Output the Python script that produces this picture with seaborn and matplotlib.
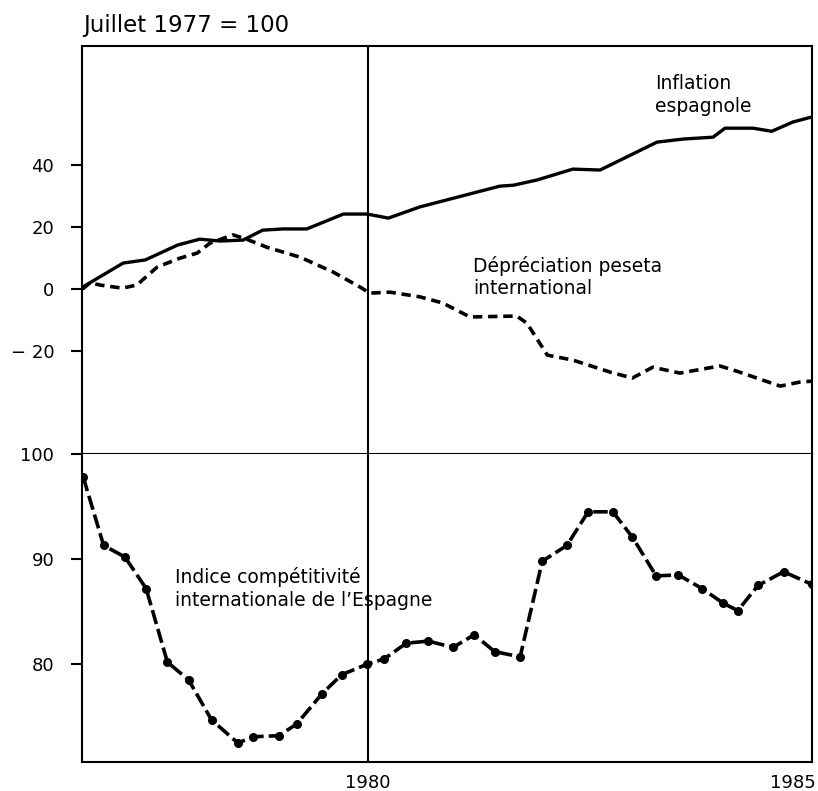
import matplotlib
matplotlib.use("Agg")
import matplotlib.pyplot as plt
import seaborn as sns

# Inflation espagnole (solid), % vs July 1977
infl_year = [1976.64, 1977.12, 1977.38, 1977.76, 1978.02, 1978.26, 1978.53, 1978.76,
             1979.00, 1979.28, 1979.71, 1979.99, 1980.24, 1980.61, 1981.55, 1981.71,
             1981.99, 1982.41, 1982.73, 1983.40, 1983.71, 1984.06, 1984.20, 1984.53,
             1984.75, 1985.00, 1985.22]
infl_value = [0.6, 8.4, 9.4, 14.2, 16.1, 15.5, 15.8, 19.0,
              19.4, 19.4, 24.2, 24.2, 22.9, 26.5, 33.2, 33.5,
              35.2, 38.7, 38.4, 47.4, 48.4, 49.0, 51.9, 51.9,
              50.9, 53.9, 55.5]

# Dépréciation peseta (dashed)
dep_year = [1976.64, 1976.73, 1976.85, 1977.11, 1977.28, 1977.52, 1977.79, 1977.99,
            1978.14, 1978.41, 1978.58, 1978.81, 1979.20, 1979.59, 1979.91, 1980.02,
            1980.26, 1980.61, 1980.88, 1981.20, 1981.75, 1981.87, 1982.11, 1982.41,
            1982.85, 1983.11, 1983.35, 1983.67, 1984.14, 1984.34, 1984.85, 1985.08,
            1985.22]
dep_value = [0.0, 2.0, 1.3, 0.3, 1.3, 7.1, 10.0, 11.6,
             14.8, 17.5, 16.0, 13.5, 10.3, 5.5, 0.6, -1.3,
             -1.0, -2.5, -4.5, -9.0, -8.7, -11.0, -21.3, -22.9,
             -26.8, -28.7, -25.2, -27.1, -24.8, -26.5, -31.3, -30.0,
             -29.7]

# Indice compétitivité internationale (base 100)
comp_year = [1976.65, 1976.89, 1977.14, 1977.39, 1977.64, 1977.89, 1978.16, 1978.47,
             1978.65, 1978.95, 1979.16, 1979.46, 1979.69, 1979.99, 1980.19, 1980.45,
             1980.71, 1981.00, 1981.25, 1981.49, 1981.79, 1982.05, 1982.34, 1982.59,
             1982.88, 1983.11, 1983.39, 1983.65, 1983.93, 1984.18, 1984.35, 1984.59,
             1984.89, 1985.22]
comp_value = [97.8, 91.3, 90.2, 87.2, 80.2, 78.5, 74.7, 72.5,
              73.1, 73.2, 74.3, 77.2, 79.0, 80.0, 80.5, 82.0,
              82.2, 81.6, 82.8, 81.2, 80.7, 89.8, 91.3, 94.5,
              94.5, 92.1, 88.4, 88.5, 87.2, 85.8, 85.1, 87.5,
              88.8, 87.6]

top_ticks = [40, 20, 0, -20]
top_labels = ["40", "20", "0", "\u2212 20"]
bottom_ticks = [100, 90, 80]
year_ticks = [1980, 1985]

sns.set_style("ticks")
plt.rcParams["font.family"] = ["DejaVu Sans"]
plt.rcParams["axes.linewidth"] = 1.5
plt.rcParams["text.color"] = "black"

fig, (ax1, ax2) = plt.subplots(2, 1, sharex=True, figsize=(8.18, 7.91), dpi=100,
                               gridspec_kw=dict(height_ratios=[408, 308], hspace=0))
fig.subplots_adjust(left=0.1002, right=0.9927, top=0.9418, bottom=0.0367)

sns.lineplot(x=infl_year, y=infl_value, ax=ax1, color="black", lw=2.4)
sns.lineplot(x=dep_year, y=dep_value, ax=ax1, color="black", lw=2.6,
             linestyle=(0, (2.6, 1.6)))
sns.lineplot(x=comp_year, y=comp_value, ax=ax2, color="black", lw=2.6,
             linestyle=(0, (4, 1.4)), marker="o", markersize=6.5,
             markeredgewidth=0)

for ax in (ax1, ax2):
    ax.axvline(1980, color="black", lw=1.5)
    for s in ax.spines.values():
        s.set_color("black")
    ax.tick_params(axis="y", length=8, width=1.5, pad=12, labelsize=13,
                   colors="black")
    ax.tick_params(axis="x", length=0, pad=9, labelsize=13, colors="black")
    ax.set_xlabel("")
    ax.set_ylabel("")

ax1.set_xlim(1976.635, 1985.224)
ax1.set_ylim(-53.2, 78.4)
ax1.set_yticks(top_ticks)
ax1.set_yticklabels(top_labels)

ax2.set_ylim(70.7, 100)
ax2.set_yticks(bottom_ticks)
ax2.set_xticks(year_ticks)
ax2.set_xticklabels([str(y) for y in year_ticks])
ax2.spines["top"].set_visible(False)

ax1.text(1983.38, 62.6, "Inflation\nespagnole", fontsize=13.5, va="center",
         ha="left", linespacing=1.25)
ax1.text(1981.24, 3.9, "Dépréciation peseta\ninternational", fontsize=13.5,
         va="center", ha="left", linespacing=1.25)
ax2.text(1977.73, 87.2, "Indice compétitivité\ninternationale de l\u2019Espagne",
         fontsize=13.5, va="center", ha="left", linespacing=1.25)

fig.text(83 / 818, 1 - 32 / 791, "Juillet 1977 = 100", fontsize=16.5,
         va="baseline", ha="left")

fig.savefig("out.png", dpi=100)
